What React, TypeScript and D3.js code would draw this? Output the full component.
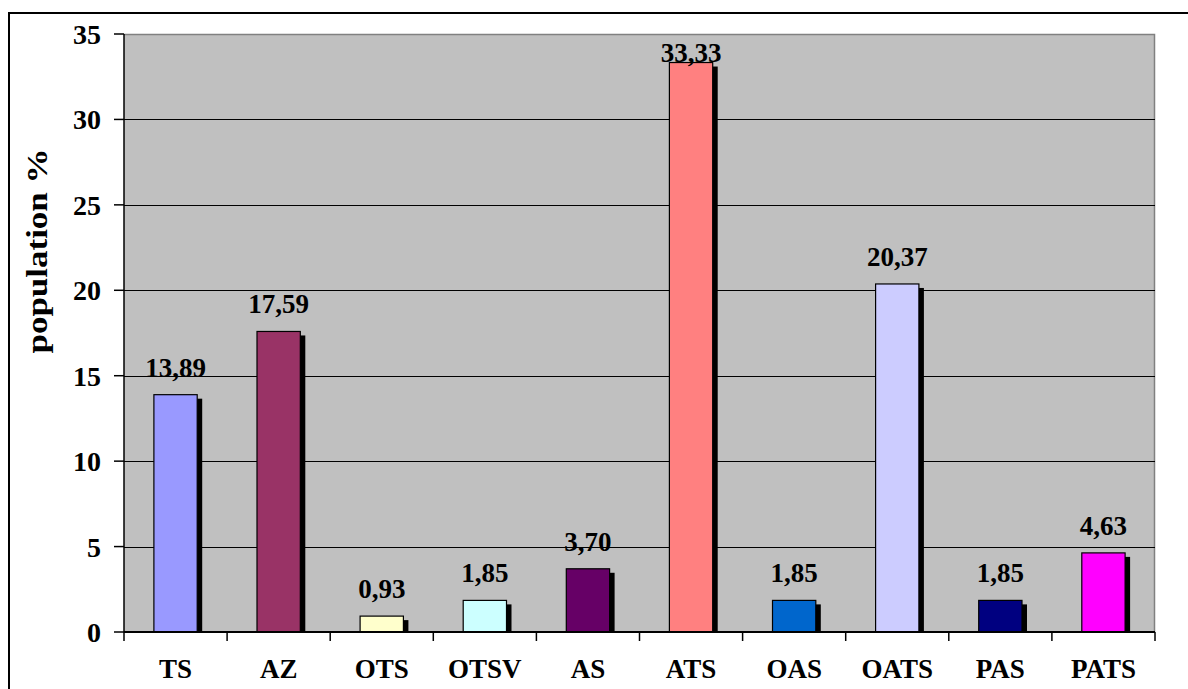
import React from "react";
import * as d3 from "d3";

// Share of the population per category (%)
const categories = ["TS", "AZ", "OTS", "OTSV", "AS", "ATS", "OAS", "OATS", "PAS", "PATS"];
const values = [13.89, 17.59, 0.93, 1.85, 3.7, 33.33, 1.85, 20.37, 1.85, 4.63];
const barColors = [
  "#9999FF", "#993366", "#FFFFCC", "#CCFFFF", "#660066",
  "#FF8080", "#0066CC", "#CCCCFF", "#000080", "#FF00FF",
];
const yTicks = [0, 5, 10, 15, 20, 25, 30, 35];
const yTitle = "population %";

const W = 1188;
const H = 689;
const plot = { left: 124, right: 1155, top: 34, bottom: 632 };
const FONT = "'Liberation Serif', 'Times New Roman', serif";

const fmt = (v: number) => v.toFixed(2).replace(".", ",");

export default function App() {
  const x = d3
    .scaleBand<string>()
    .domain(categories)
    .range([plot.left, plot.right])
    .paddingInner(0.58)
    .paddingOuter(0.29);
  const y = d3.scaleLinear().domain([0, 35]).range([plot.bottom, plot.top]);
  const band = (plot.right - plot.left) / categories.length;
  const shadow = { dx: 5, dy: 4 };

  return (
    <svg
      width={W}
      height={H}
      style={{ position: "absolute", left: 0, top: 0, background: "#fff" }}
      fontFamily={FONT}
    >
      <defs>
        <clipPath id="plotClip">
          <rect x={plot.left} y={plot.top} width={plot.right - plot.left} height={plot.bottom - plot.top} />
        </clipPath>
      </defs>

      {/* chart frame */}
      <rect x={9} y={13} width={W + 20} height={H + 20} fill="none" stroke="#000" strokeWidth={2} />

      {/* plot background */}
      <rect
        x={plot.left}
        y={plot.top}
        width={plot.right - plot.left}
        height={plot.bottom - plot.top}
        fill="#C0C0C0"
      />
      {/* top and right edges of the plot area */}
      <path
        d={`M${plot.left},${plot.top + 0.5}H${plot.right - 0.5}V${plot.bottom}`}
        fill="none"
        stroke="#808080"
        strokeWidth={1.5}
      />

      {/* gridlines */}
      {yTicks
        .filter((t) => t > 0 && t < 35)
        .map((t) => (
          <line
            key={`g${t}`}
            x1={plot.left}
            x2={plot.right}
            y1={Math.round(y(t)) + 0.5}
            y2={Math.round(y(t)) + 0.5}
            stroke="#000"
            strokeWidth={1.2}
          />
        ))}

      {/* bars with drop shadows */}
      <g clipPath="url(#plotClip)">
        {categories.map((c, i) => (
          <rect
            key={`s${c}`}
            x={x(c)! + shadow.dx}
            y={y(values[i]) + shadow.dy}
            width={x.bandwidth()}
            height={plot.bottom - y(values[i])}
            fill="#000"
          />
        ))}
        {categories.map((c, i) => (
          <rect
            key={`b${c}`}
            x={x(c)!}
            y={y(values[i])}
            width={x.bandwidth()}
            height={plot.bottom - y(values[i])}
            fill={barColors[i]}
            stroke="#000"
            strokeWidth={1.2}
          />
        ))}
      </g>

      {/* y axis */}
      <line x1={plot.left} x2={plot.left} y1={plot.top} y2={plot.bottom} stroke="#000" strokeWidth={1.5} />
      {yTicks.map((t) => (
        <g key={`t${t}`}>
          <line x1={plot.left - 10} x2={plot.left} y1={y(t)} y2={y(t)} stroke="#000" strokeWidth={1.5} />
          <text
            x={101}
            y={y(t) + 10}
            textAnchor="end"
            fontSize={28}
            fontWeight="bold"
          >
            {t}
          </text>
        </g>
      ))}

      {/* x axis */}
      <line x1={plot.left} x2={plot.right} y1={plot.bottom} y2={plot.bottom} stroke="#000" strokeWidth={2} />
      {d3.range(categories.length + 1).map((i) => (
        <line
          key={`xt${i}`}
          x1={plot.left + i * band}
          x2={plot.left + i * band}
          y1={plot.bottom}
          y2={plot.bottom + 9}
          stroke="#000"
          strokeWidth={1.5}
        />
      ))}
      {categories.map((c) => (
        <text
          key={`c${c}`}
          x={x(c)! + x.bandwidth() / 2}
          y={678}
          textAnchor="middle"
          fontSize={27}
          fontWeight="bold"
        >
          {c}
        </text>
      ))}

      {/* value labels */}
      {categories.map((c, i) => (
        <text
          key={`v${c}`}
          x={x(c)! + x.bandwidth() / 2}
          y={Math.max(y(values[i]) - 18, plot.top + 28)}
          textAnchor="middle"
          fontSize={27}
          fontWeight="bold"
        >
          {fmt(values[i])}
        </text>
      ))}

      {/* y axis title */}
      <text
        transform={`translate(47, 251) rotate(-90)`}
        textAnchor="middle"
        fontSize={29}
        fontWeight="bold"
        textLength={205}
        lengthAdjust="spacingAndGlyphs"
      >
        {yTitle}
      </text>
    </svg>
  );
}
